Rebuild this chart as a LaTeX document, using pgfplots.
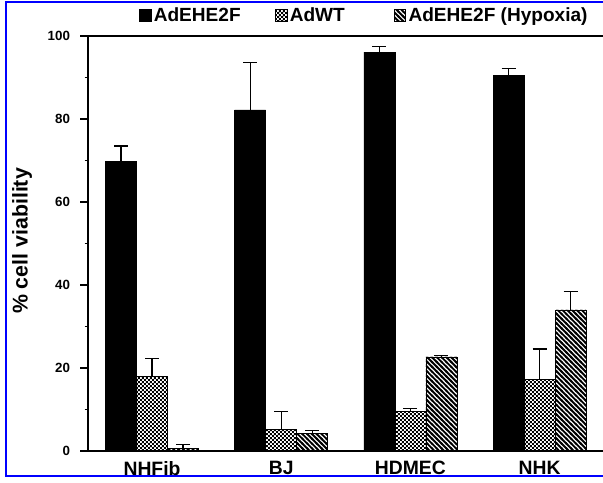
\documentclass[border=0pt]{standalone}
\usepackage{pgfplots}
\pgfplotsset{compat=1.18}
\usepackage{fontspec}
\setmainfont{Liberation Sans}
\usetikzlibrary{patterns}
\pgfdeclarepatternformonly{mycheck}{\pgfpointorigin}{\pgfqpoint{3.2pt}{3.2pt}}{\pgfqpoint{3.2pt}{3.2pt}}{%
  \pgfpathrectangle{\pgfpointorigin}{\pgfqpoint{1.7pt}{1.7pt}}%
  \pgfpathrectangle{\pgfqpoint{1.6pt}{1.6pt}}{\pgfqpoint{1.7pt}{1.7pt}}%
  \pgfusepath{fill}}
\pgfdeclarepatternformonly{myhatch}{\pgfqpoint{-1pt}{-1pt}}{\pgfqpoint{4.6pt}{4.6pt}}{\pgfqpoint{3.6pt}{3.6pt}}{%
  \pgfsetlinewidth{1.4pt}%
  \pgfpathmoveto{\pgfqpoint{-0.6pt}{4.2pt}}%
  \pgfpathlineto{\pgfqpoint{4.2pt}{-0.6pt}}%
  \pgfusepath{stroke}}
\pgfplotstableread{
x y e
0 69.7 3.8
1 82.2 11.5
2 96.1 1.4
3 90.5 1.7
}\tblA
\pgfplotstableread{
x y e
0 17.9 4.4
1 5.2 4.4
2 9.5 0.7
3 17.3 7.3
}\tblB
\pgfplotstableread{
x y e
0 0.7 0.9
1 4.3 0.7
2 22.7 0.3
3 34.0 4.4
}\tblC
\begin{document}
\begin{tikzpicture}
\useasboundingbox (0pt,0pt) rectangle (452.25pt,361.5pt);
\draw[blue, line width=1.6pt] (495pt,4.5pt) -- (4.5pt,4.5pt) -- (4.5pt,360pt) -- (495pt,360pt);
\begin{axis}[
  at={(66pt,23.25pt)}, anchor=south west,
  scale only axis, width=391.5pt, height=311.25pt,
  ybar,
  xmin=-0.4954, xmax=3.5449, ymin=0, ymax=100,
  bar width=0.24,
  xtick={0,1,2,3}, xticklabels={NHFib,BJ,HDMEC,NHK},
  ytick={0,20,40,60,80,100}, minor ytick={10,30,50,70,90},
  tick pos=left, tick align=outside,
  major tick length=6pt, minor tick length=2.5pt,
  xtick style={draw=none},
  tick style={black, line width=0.8pt},
  axis line style={line width=0.9pt},
  /pgf/number format/assume math mode=true,
  yticklabel style={font=\bfseries\fontsize{10}{12}\selectfont, xshift=-4pt},
  xticklabel style={font=\bfseries\fontsize{14.5}{16}\selectfont, yshift=2pt},
  ylabel={\% cell viability},
  ylabel style={font=\bfseries\fontsize{16}{18}\selectfont, at={(axis description cs:-0.126,0.506)}, anchor=center},
  legend columns=3,
  legend image code/.code={\draw[#1,draw=black] (0pt,-4.2pt) rectangle (8.4pt,4.2pt);},
  legend style={at={(axis description cs:0.098,1.05)}, anchor=west, draw=none, fill=none, inner sep=0pt,
    font=\bfseries\fontsize{14.3}{16}\selectfont,
    /tikz/every even column/.append style={column sep=0pt}},
  error bars/y dir=plus, error bars/y explicit,
  error bars/error bar style={line width=0.9pt, black},
  error bars/error mark options={rotate=90, line width=0.9pt, mark size=5.2pt, black},
]
\addplot[fill=black, draw=black, bar shift=-0.24] table[x=x, y=y, y error=e] {\tblA};
\addlegendentry{AdEHE2F\kern24pt}
\addplot[pattern=mycheck, pattern color=black, draw=black, bar shift=0] table[x=x, y=y, y error=e] {\tblB};
\addlegendentry{AdWT\kern35pt}
\addplot[pattern=myhatch, pattern color=black, draw=black, bar shift=0.24] table[x=x, y=y, y error=e] {\tblC};
\addlegendentry{AdEHE2F (Hypoxia)}
\end{axis}
\end{tikzpicture}
\end{document}
